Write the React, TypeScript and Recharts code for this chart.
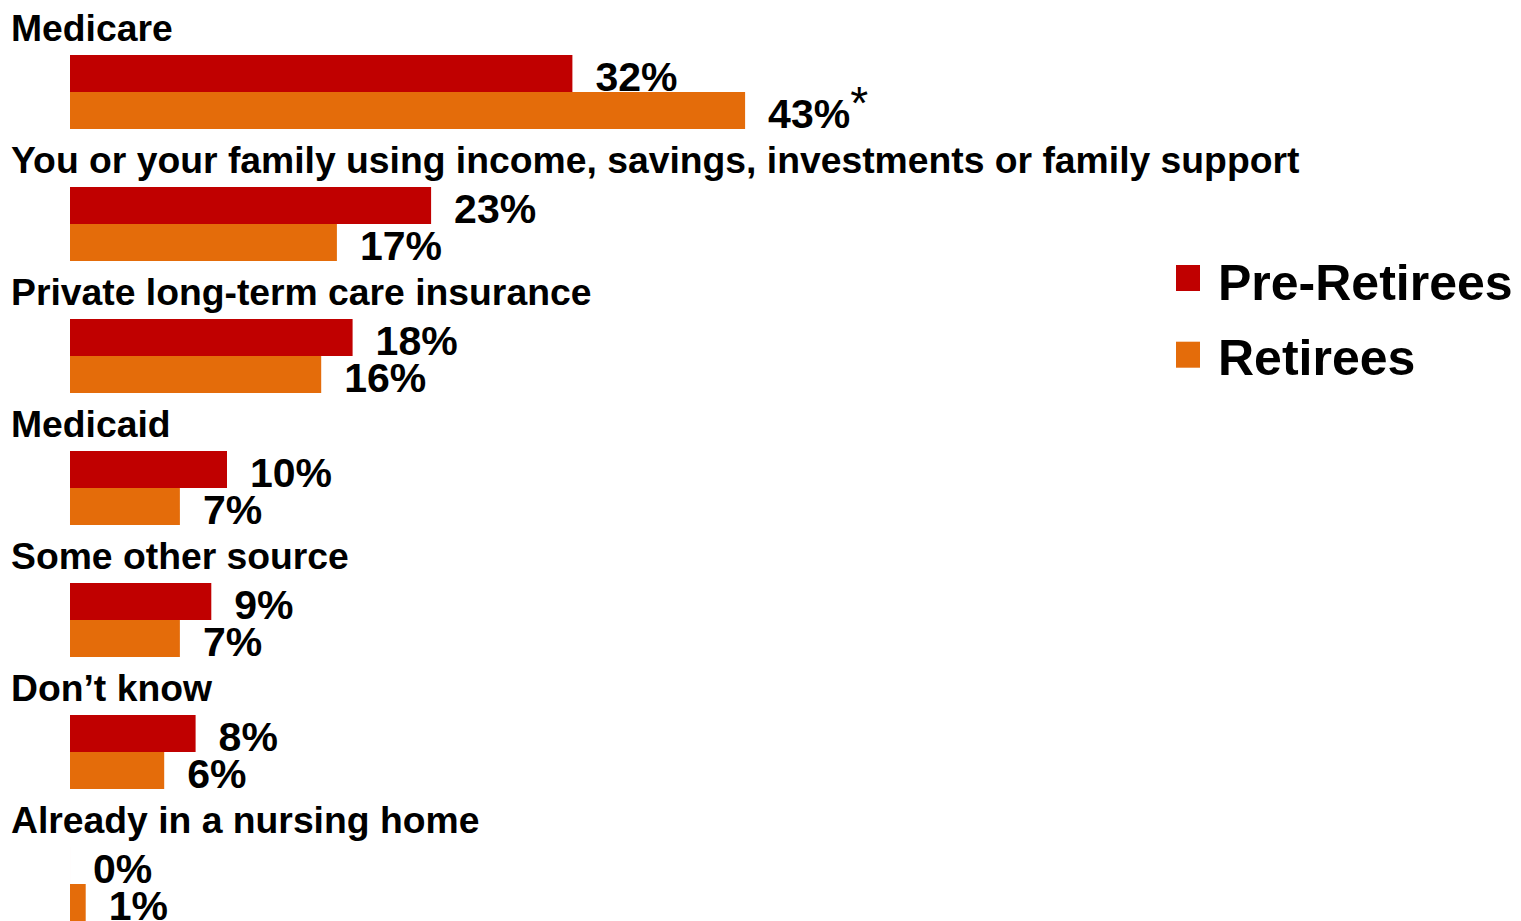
import { BarChart, Bar, XAxis, YAxis, LabelList } from "recharts";

const categories = [
  "Medicare",
  "You or your family using income, savings, investments or family support",
  "Private long-term care insurance",
  "Medicaid",
  "Some other source",
  "Don\u2019t know",
  "Already in a nursing home",
];
const preRetirees = [32, 23, 18, 10, 9, 8, 0];
const retirees = [43, 17, 16, 7, 7, 6, 1];
const retireesNote = ["*", "", "", "", "", "", ""];

const series = [
  { key: "preRetirees", label: "Pre-Retirees", color: "#C00000" },
  { key: "retirees", label: "Retirees", color: "#E46C0A" },
];

const data = categories.map((name, i) => ({
  name,
  preRetirees: preRetirees[i],
  retirees: retirees[i],
  note: retireesNote[i],
}));

const FONT = "'Liberation Sans', Arial, Helvetica, sans-serif";

function CategoryTick(props: any) {
  const { y, payload } = props;
  return (
    <text x={11} y={y - 51} fontFamily={FONT} fontSize={37.3} fontWeight="bold" fill="#000">
      {payload.value}
    </text>
  );
}

function valueLabel(withNote: boolean) {
  return (props: any) => {
    const { x, y, width, height, value, index } = props;
    const note = withNote ? data[index].note : "";
    return (
      <text
        x={x + width + 23}
        y={y + height / 2 + 17.5}
        fontFamily={FONT}
        fontSize={41}
        fontWeight="bold"
        fill="#000"
      >
        {value}%
        {note ? (
          <tspan fontWeight="normal" fontSize={46} dx={0} dy={-9}>
            {note}
          </tspan>
        ) : null}
      </text>
    );
  };
}

function LegendBox() {
  return (
    <svg width={350} height={140} style={{ position: "absolute", top: 250, left: 1170 }}>
      {series.map((s, i) => (
        <g key={s.key}>
          <rect x={6} y={15 + i * 76.7} width={24} height={26} fill={s.color} />
          <text x={48} y={50 + i * 75} fontFamily={FONT} fontSize={50} fontWeight="bold" fill="#000">
            {s.label}
          </text>
        </g>
      ))}
    </svg>
  );
}

export default function App() {
  return (
    <div
      style={{
        position: "fixed",
        top: 0,
        left: 0,
        width: 1521,
        height: 921,
        overflow: "hidden",
        background: "#fff",
      }}
    >
      <BarChart
        width={1521}
        height={951}
        data={data}
        layout="vertical"
        barSize={37}
        barGap={0}
        margin={{ top: 26, right: 666, bottom: 1, left: 0 }}
      >
        <XAxis type="number" domain={[0, 50]} hide />
        <YAxis
          type="category"
          dataKey="name"
          width={70}
          axisLine={false}
          tickLine={false}
          tick={<CategoryTick />}
        />
        {series.map((s) => (
          <Bar
            key={s.key}
            dataKey={s.key}
            name={s.label}
            fill={s.color}
            minPointSize={0.01}
            isAnimationActive={false}
          >
            <LabelList dataKey={s.key} content={valueLabel(s.key === "retirees")} />
          </Bar>
        ))}
      </BarChart>
      <LegendBox />
    </div>
  );
}
